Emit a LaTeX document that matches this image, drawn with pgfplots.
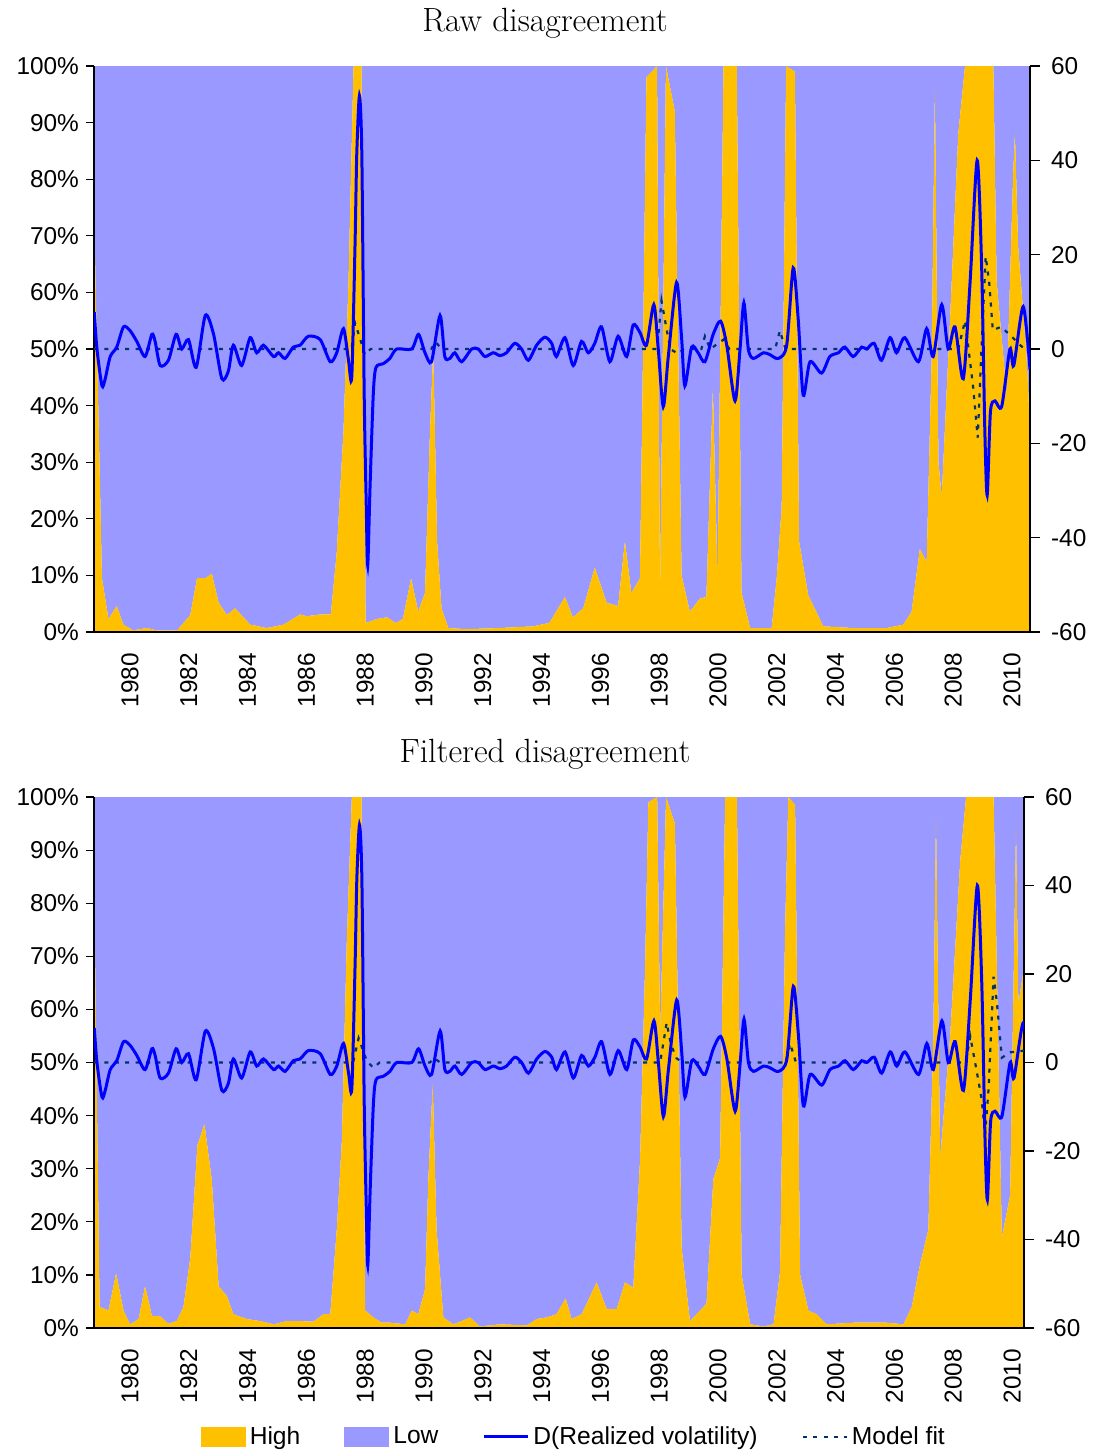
\documentclass[border=0pt]{standalone}
\usepackage{pgfplots}
\pgfplotsset{compat=1.18}
\usepackage{pgfplotstable}
\usepackage{fontspec}
\newfontfamily\arial{Liberation Sans}
\definecolor{hiC}{RGB}{255,192,0}
\definecolor{loC}{RGB}{153,153,255}
\definecolor{fitC}{RGB}{0,51,102}

\pgfplotstableread{
year high low
1978.78 75 25
1979.05 9.5 90.5
1979.27 2.3 97.7
1979.55 4.6 95.4
1979.78 1.3 98.7
1980.10 0.3 99.7
1980.57 0.7 99.3
1980.90 0.3 99.7
1981.60 0.3 99.7
1982.04 3.0 97.0
1982.27 9.5 90.5
1982.55 9.5 90.5
1982.77 10.3 89.7
1983.00 5.2 94.8
1983.28 3.0 97.0
1983.56 4.2 95.8
1984.07 1.3 98.7
1984.63 0.7 99.3
1985.20 1.3 98.7
1985.76 3.1 96.9
1985.99 2.8 97.2
1986.44 3.1 96.9
1986.80 3.1 96.9
1987.00 14 86
1987.23 35.6 64.4
1987.40 62 38
1987.57 100 0
1987.84 100 0
1987.98 1.6 98.4
1988.36 2.3 97.7
1988.70 2.6 97.4
1989.00 1.6 98.4
1989.24 2.3 97.7
1989.52 9.5 90.5
1989.76 3.6 96.4
1989.99 6.9 93.1
1990.16 35.6 64.4
1990.27 50 50
1990.40 16 84
1990.55 4.2 95.8
1990.78 0.7 99.3
1991.40 0.5 99.5
1992.50 0.7 99.3
1993.65 1.0 99.0
1994.20 1.6 98.4
1994.50 4.2 95.8
1994.73 6.2 93.8
1995.00 2.6 97.4
1995.35 4.2 95.8
1995.74 11.4 88.6
1996.14 5.2 94.8
1996.53 4.6 95.4
1996.76 16 84
1996.98 6.9 93.1
1997.27 9.5 90.5
1997.35 40 60
1997.49 98 2
1997.85 100 0
1997.95 6 94
1998.15 100 0
1998.45 92 8
1998.68 10 90
1998.96 3.6 96.4
1999.30 5.9 94.1
1999.52 6.2 93.8
1999.74 43 57
1999.90 9.5 90.5
2000.10 100 0
2000.55 100 0
2000.71 7 93
2001.00 0.7 99.3
2001.73 0.7 99.3
2001.90 9.5 90.5
2002.07 22 78
2002.22 100 0
2002.52 99 1
2002.66 16 84
2002.97 6.5 93.5
2003.48 1.0 99.0
2004.50 0.7 99.3
2005.62 0.7 99.3
2006.19 1.3 98.7
2006.47 3.6 96.4
2006.75 14.7 85.3
2006.98 12.4 87.6
2007.15 48.7 51.3
2007.26 96 4
2007.38 30 70
2007.49 24 76
2007.77 55 45
2008.05 88 12
2008.28 100 0
2009.24 100 0
2009.35 62 38
2009.69 42 58
2009.91 81 19
2009.97 88 12
2010.08 68 32
2010.36 49 51
2010.48 36 64
}\rawarea

\pgfplotstableread{
year high low
1978.78 86 14
1978.97 4 96
1979.27 3.3 96.7
1979.53 10.3 89.7
1979.78 3.3 96.7
1980.00 0.7 99.3
1980.29 1.7 98.3
1980.51 7.9 92.1
1980.74 2.3 97.7
1981.02 2.2 97.8
1981.30 0.8 99.2
1981.58 1.3 98.7
1981.81 4 96
1982.04 13.2 86.8
1982.28 34.4 65.6
1982.52 38.4 61.6
1982.77 27.8 72.2
1983.00 7.9 92.1
1983.28 6 94
1983.50 2.6 97.4
1983.95 1.7 98.3
1984.41 1.3 98.7
1984.86 0.7 99.3
1985.31 1.3 98.7
1985.76 1.3 98.7
1986.21 1.2 98.8
1986.55 2.6 97.4
1986.78 2.6 97.4
1987.00 18.5 81.5
1987.17 35 65
1987.34 73 27
1987.51 100 0
1987.84 100 0
1987.96 3.3 96.7
1988.24 2 98
1988.53 1 99
1988.81 1 99
1989.32 0.7 99.3
1989.54 3.3 96.7
1989.76 2.6 97.4
1989.99 7.3 92.7
1990.10 28 72
1990.25 46 54
1990.38 18.5 81.5
1990.61 2 98
1990.95 0.7 99.3
1991.23 1.3 98.7
1991.51 2 98
1991.85 0.3 99.7
1992.53 0.7 99.3
1993.43 0.5 99.5
1993.77 1.7 98.3
1994.11 2 98
1994.44 2.6 97.4
1994.75 5.6 94.4
1994.95 1.7 98.3
1995.29 2.6 97.4
1995.80 8.6 91.4
1996.14 3.6 96.4
1996.48 3.6 96.4
1996.76 8.6 91.4
1997.04 7.6 92.4
1997.27 31.7 68.3
1997.44 68 32
1997.55 99 1
1997.85 100 0
1997.95 55 45
1998.15 100 0
1998.45 95 5
1998.68 15 85
1998.96 1.3 98.7
1999.30 3.3 96.7
1999.52 4.6 95.4
1999.75 28 72
1999.98 32 68
2000.15 100 0
2000.55 100 0
2000.71 10 90
2001.00 0.7 99.3
2001.45 0.3 99.7
2001.79 0.7 99.3
2002.01 10.6 89.4
2002.18 75 25
2002.29 100 0
2002.52 98.5 1.5
2002.69 10 90
2002.97 3.3 96.7
2003.25 2.6 97.4
2003.59 0.7 99.3
2004.50 1 99
2005.62 1 99
2006.19 0.7 99.3
2006.47 4 96
2006.75 12 88
2007.03 18.5 81.5
2007.20 55 45
2007.29 96 4
2007.43 32 68
2007.77 55 45
2008.11 88 12
2008.31 100 0
2009.24 100 0
2009.35 68 32
2009.52 17 83
2009.80 25 75
2010.00 94 6
2010.08 61 39
2010.27 68 32
}\filtarea

\pgfplotstableread{
year d
1978.79 7.8
1978.88 0
1979.05 -7.8
1979.16 -6.3
1979.33 -1.6
1979.55 0.4
1979.78 4.7
1980.00 3.9
1980.23 1.6
1980.51 -1.6
1980.74 3.1
1980.85 1.6
1981.02 -3.5
1981.30 -2.4
1981.56 3.1
1981.75 0
1981.98 2.0
1982.24 -3.9
1982.55 7.1
1982.83 3.1
1983.11 -6.3
1983.33 -4.7
1983.50 0.8
1983.78 -3.5
1984.07 2.4
1984.29 -0.8
1984.52 0.8
1984.86 -1.6
1985.03 -0.8
1985.25 -2.0
1985.53 0.4
1985.76 0.8
1986.04 2.7
1986.44 2.0
1986.78 -2.7
1987.00 -0.8
1987.23 4.3
1987.40 -2.4
1987.51 -5.9
1987.62 22
1987.68 41.5
1987.77 53.7
1987.85 41.5
1987.93 -9.4
1988.00 -33
1988.05 -45.9
1988.13 -29
1988.24 -9.4
1988.33 -3.9
1988.58 -3.1
1988.80 -2
1989.03 0
1989.54 0
1989.77 3.1
1989.99 -0.8
1990.21 -2.7
1990.50 7.1
1990.66 -1.6
1990.83 -2.0
1991.00 -0.8
1991.23 -2.7
1991.57 0
1991.79 0
1992.02 -1.6
1992.30 -0.8
1992.53 -1.4
1992.75 -0.8
1993.03 1.2
1993.26 0
1993.49 -2.4
1993.77 0.8
1994.05 2.5
1994.28 1.2
1994.44 -1.6
1994.73 2.4
1995.01 -3.5
1995.29 1.6
1995.52 -0.8
1995.74 1.2
1995.97 4.7
1996.25 -2.7
1996.53 2.7
1996.82 -1.6
1997.04 5.1
1997.27 3.5
1997.49 0.8
1997.74 9.4
1997.89 0
1998.06 -12.2
1998.23 -1.6
1998.51 14.1
1998.68 2.4
1998.79 -7.8
1999.02 0.4
1999.24 -0.8
1999.47 -2.7
1999.75 3.1
2000.00 5.9
2000.21 0.8
2000.49 -11
2000.66 0
2000.79 9.8
2000.94 0
2001.11 -2
2001.45 -0.8
2001.67 -1.2
2001.96 -2
2002.24 0.8
2002.46 17.2
2002.63 6.3
2002.80 -9.8
2003.03 -2.7
2003.42 -5.1
2003.70 -1.6
2003.99 -0.8
2004.21 0.4
2004.49 -1.6
2004.78 0.4
2004.95 0
2005.20 1.2
2005.45 -2.4
2005.74 2.4
2005.96 -0.8
2006.24 2.4
2006.70 -2.7
2006.98 4.3
2007.20 -1.6
2007.49 9.4
2007.71 0
2007.94 4.7
2008.22 -6.3
2008.45 14.1
2008.69 40
2008.84 18
2008.95 -17.2
2009.03 -31
2009.14 -13.3
2009.29 -11
2009.52 -12.2
2009.80 0
2009.93 -3.5
2010.25 9
2010.48 -4.3
}\dvol

\pgfplotstableread{
year f
1978.78 0
1987.50 0
1987.62 5.5
1987.75 3
1987.96 -1.2
1988.15 0
1990.20 0
1990.35 1.5
1990.55 0
1997.85 0
1998.00 10.2
1998.15 5
1998.30 0
1998.55 -1
1998.75 0
1999.35 0
1999.47 2.7
1999.65 0
2000.10 2
2000.30 0
2001.85 0
2002.01 3.9
2002.20 0
2008.05 0
2008.28 6
2008.55 -7.8
2008.71 -18.8
2008.85 2
2008.98 19.6
2009.10 14
2009.22 4
2009.50 4.7
2009.85 2.7
2010.15 0.8
2010.48 -1
}\rawfit

\pgfplotstableread{
year f
1978.78 0
1987.55 0
1987.74 5.5
1988.02 0.3
1988.24 -1.2
1988.45 0
1990.15 0
1990.30 1
1990.50 0
1997.95 0
1998.17 9
1998.32 4
1998.50 1
1998.70 0
2002.20 0
2002.35 4.3
2002.55 0
2008.30 0
2008.45 5.9
2008.67 -2
2008.84 -8.4
2008.95 -16.4
2009.07 -6
2009.24 19.4
2009.35 13.8
2009.52 1.1
2009.80 2.3
2010.27 2.7
}\filtfit

\pgfplotsset{
  common/.style={
    scale only axis,
    xmin=1978.78,
    enlargelimits=false,
    clip=true,
    tick label style={font=\fontsize{12.2}{14}\arial},
    /pgf/number format/assume math mode=true,
    /pgf/number format/1000 sep={},
    tick align=outside,
  },
  leftax/.style={
    common,
    axis on top,
    axis x line*=bottom,
    axis y line*=left,
    ymin=0, ymax=100,
    ytick={0,10,...,100},
    yticklabel={\pgfmathprintnumber{\tick}\%},
    xtick={1980,1981.991,1983.982,1985.974,1987.965,1989.956,1991.947,1993.938,1995.930,1997.921,1999.912,2001.903,2003.894,2005.886,2007.877,2009.868},
    xticklabels={1980,1982,1984,1986,1988,1990,1992,1994,1996,1998,2000,2002,2004,2006,2008,2010},
    xticklabel style={rotate=90, anchor=east, xshift=-3pt},
    major x tick style={draw=none},
    major y tick style={black, line width=0.6pt},
    major tick length=4pt,
    axis line style={line width=0.8pt},
    stack plots=y,
  },
  rightax/.style={
    common,
    axis y line*=right,
    axis x line=none,
    ymin=-60, ymax=60,
    ytick={-60,-40,...,60},
    major tick length=5pt,
    major y tick style={black, line width=0.6pt},
    axis line style={line width=0.8pt},
    yticklabel style={xshift=2pt},
  },
  dline/.style={blue, line width=1.5pt, smooth, tension=0.45},
  fline/.style={fitC, line width=1.1pt, dash pattern=on 2pt off 3.2pt},
}

\begin{document}
\begin{tikzpicture}
\useasboundingbox (0,0) rectangle (547.5pt,-726pt);

\node[anchor=base, font=\fontsize{16.8}{20}\selectfont] at (272.5pt,-15.5pt) {Raw disagreement};
\node[anchor=base, font=\fontsize{16.8}{20}\selectfont] at (272.5pt,-381pt) {Filtered disagreement};

% ---- Top panel ----
\begin{axis}[leftax, at={(47pt,-33pt)}, anchor=north west, width=468pt, height=283pt, xmax=2010.48]
\addplot[fill=hiC, draw=none] table[x=year, y=high] {\rawarea} \closedcycle;
\addplot[fill=loC, draw=none] table[x=year, y=low] {\rawarea} \closedcycle;
\end{axis}
\begin{axis}[rightax, at={(47pt,-33pt)}, anchor=north west, width=468pt, height=283pt, xmax=2010.48]
\addplot[fline] table[x=year, y=f] {\rawfit};
\addplot[dline] table[x=year, y=d] {\dvol};
\end{axis}

% ---- Bottom panel ----
\begin{axis}[leftax, at={(47pt,-398.5pt)}, anchor=north west, width=465pt, height=265.5pt, xmax=2010.27]
\addplot[fill=hiC, draw=none] table[x=year, y=high] {\filtarea} \closedcycle;
\addplot[fill=loC, draw=none] table[x=year, y=low] {\filtarea} \closedcycle;
\end{axis}
\begin{axis}[rightax, at={(47pt,-398.5pt)}, anchor=north west, width=465pt, height=265.5pt, xmax=2010.27,
  legend style={at={(0.517,-0.205)}, anchor=center, legend columns=4, draw=none, fill=none,
    font=\fontsize{12.3}{14}\arial, /tikz/every even column/.append style={column sep=20pt}},
  legend cell align=left]
\addlegendimage{fill=hiC, draw=none, legend image code/.code={\fill[hiC] (0pt,-5pt) rectangle (22.5pt,5pt);}}
\addlegendentry{High}
\addlegendimage{fill=loC, draw=none, legend image code/.code={\fill[loC] (0pt,-5pt) rectangle (22.5pt,5pt);}}
\addlegendentry{Low}
\addlegendimage{blue, line width=1.5pt, legend image code/.code={\draw[blue, line width=1.5pt] (0pt,0pt) -- (22pt,0pt);}}
\addlegendentry{D(Realized volatility)}
\addlegendimage{fitC, legend image code/.code={\draw[fitC, line width=1.1pt, dash pattern=on 2pt off 3.2pt] (0pt,0pt) -- (22pt,0pt);}}
\addlegendentry{Model fit}
\addplot[fline, forget plot] table[x=year, y=f] {\filtfit};
\addplot[dline, forget plot] table[x=year, y=d] {\dvol};
\end{axis}
\end{tikzpicture}
\end{document}
